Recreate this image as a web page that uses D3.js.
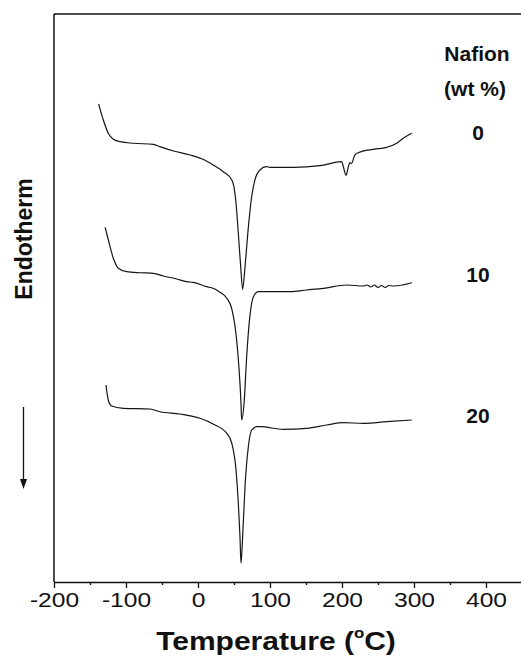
<!DOCTYPE html>
<html>
<head>
<meta charset="utf-8">
<script src="https://cdn.jsdelivr.net/npm/d3@7"></script>
<style>
  html, body { margin: 0; padding: 0; background: #fff; }
  svg { display: block; }
</style>
</head>
<body>
<svg id="chart" width="521" height="668"></svg>
<script>
// DSC traces, heat flow in arbitrary units (endotherm down), offset per composition
const trace0 = [
  [-138, 84.15], [-131.5, 81.34], [-124.6, 79.0], [-117.6, 77.94], [-108, 77.52],
  [-90, 77.24], [-62, 77.06], [-53, 76.64], [-34, 75.88], [-11, 75.18], [7, 74.42],
  [21, 73.42], [35, 72.24], [47, 70.77], [50, 69.54], [52.8, 66.67], [56, 61.39],
  [59.3, 55.51], [62, 51.53], [65.3, 55.51], [70, 62.55], [74.5, 67.83], [79, 70.77],
  [86, 72.54], [95, 73.12], [100, 73.01], [132, 73.01], [169, 73.29], [199.5, 74.0],
  [201.9, 73.1], [205.6, 71.6], [208.8, 73.1], [211, 73.82], [213, 73.68],
  [218, 75.18], [222.7, 75.58], [243.5, 76.18], [262, 76.53], [276, 77.24],
  [285, 78.12], [296.8, 79.0]
];
const trace10 = [
  [-129, 62.45], [-124.5, 60.21], [-117.6, 56.99], [-110.6, 55.23], [-99, 54.63],
  [-80.6, 54.45], [-62, 54.35], [-48, 53.87], [-29.6, 53.35], [-15.7, 52.87],
  [-6.5, 52.76], [12, 51.99], [21, 51.71], [30, 51.06], [40, 49.95], [47, 48.06],
  [53.7, 42.61], [57.4, 36.74], [59.7, 31.51], [60.6, 28.52], [64, 31.51],
  [67.6, 39.67], [72, 46.71], [77, 50.23], [84, 51.11], [100, 51.11], [128, 51.11],
  [151, 51.41], [174, 51.71], [206.5, 52.29], [229.6, 52.11], [235, 52.29],
  [240, 51.94], [245, 52.29], [250, 51.85], [255, 52.2], [260, 51.85], [265, 52.2],
  [271, 52.11], [294.4, 52.59], [297, 52.69]
];
const trace20 = [
  [-127.8, 34.68], [-124.6, 32.04], [-120, 30.99], [-103.7, 30.58], [-66.7, 30.46],
  [-52.8, 29.98], [-25, 29.58], [2.8, 28.82], [21, 27.82], [40, 26.18], [46.8, 24.47],
  [52.8, 19.72], [56, 13.91], [58.3, 7.98], [59.7, 3.35], [62, 7.98], [65.3, 16.78],
  [69.9, 23.82], [74.6, 26.76], [81.5, 27.34], [86, 27.34], [118.5, 26.88],
  [151, 27.06], [178.7, 27.64], [201.8, 28.05], [229.6, 27.94], [262, 28.22],
  [296.8, 28.52]
];
const traces = [trace0, trace10, trace20];
const nafionLabels = ["0", "10", "20"];
const labelLevels = [79.0, 54.0, 29.3];   // where each composition label sits
const majorTicks = [-200, -100, 0, 100, 200, 300, 400];
const minorTicks = [-150, -50, 50, 150, 250, 350, 450];

const svg = d3.select("#chart");
const x = d3.scaleLinear().domain([-200, 450]).range([54, 522]);
const y = d3.scaleLinear().domain([0, 100]).range([582, 14]);

const sans = "'Liberation Sans', Arial, Helvetica, sans-serif";

// frame: left and top edges
svg.append("line").attr("x1", 54).attr("x2", 54).attr("y1", y(100)).attr("y2", y(0))
  .attr("stroke", "#111").attr("stroke-width", 1.5);
svg.append("line").attr("x1", 54).attr("x2", 522).attr("y1", y(100)).attr("y2", y(100))
  .attr("stroke", "#111").attr("stroke-width", 1.5);

// bottom axis, major ticks with labels (plain hyphen for negatives)
const gx = svg.append("g").attr("transform", `translate(0,${y(0)})`)
  .call(d3.axisBottom(x).tickValues(majorTicks).tickSize(6).tickSizeOuter(0)
        .tickFormat(d => String(d)));
gx.select(".domain").attr("stroke", "#111").attr("stroke-width", 1.5);
gx.selectAll(".tick line").attr("stroke", "#111").attr("stroke-width", 1.3);
gx.selectAll(".tick text")
  .attr("y", 25).attr("dy", 0)
  .attr("font-family", sans).attr("font-size", 20.5).attr("fill", "#111")
  .attr("transform", "scale(1.2,1)");

// minor ticks
const gm = svg.append("g").attr("transform", `translate(0,${y(0)})`)
  .call(d3.axisBottom(x).tickValues(minorTicks).tickSize(3).tickFormat(""));
gm.select(".domain").remove();
gm.selectAll(".tick line").attr("stroke", "#111").attr("stroke-width", 1.3);

// traces
const line = d3.line().x(d => x(d[0])).y(d => y(d[1])).curve(d3.curveMonotoneX);
svg.append("g").selectAll("path").data(traces).join("path")
  .attr("d", line).attr("fill", "none").attr("stroke", "#151515")
  .attr("stroke-width", 1.2).attr("stroke-linejoin", "round");

// composition labels
svg.append("text").attr("x", 477).attr("y", 61).attr("text-anchor", "middle")
  .attr("font-family", sans).attr("font-weight", "bold").attr("font-size", 21)
  .attr("fill", "#111").text("Nafion");
svg.append("text").attr("x", 475).attr("y", 96).attr("text-anchor", "middle")
  .attr("font-family", sans).attr("font-weight", "bold").attr("font-size", 21)
  .attr("fill", "#111").text("(wt %)");
svg.append("g").selectAll("text").data(nafionLabels).join("text")
  .attr("x", 478).attr("y", (d, i) => y(labelLevels[i]) + 7)
  .attr("text-anchor", "middle")
  .attr("font-family", sans).attr("font-weight", "bold").attr("font-size", 21)
  .attr("fill", "#111").text(d => d);

// x axis title
const xt = svg.append("text").attr("text-anchor", "middle")
  .attr("transform", "translate(276,650) scale(1.2,1)")
  .attr("font-family", sans).attr("font-weight", "bold").attr("font-size", 25)
  .attr("fill", "#111");
xt.append("tspan").text("Temperature (");
xt.append("tspan").attr("font-size", 14).attr("dy", -12).text("o");
xt.append("tspan").attr("dy", 12).text("C)");

// y axis title and endotherm arrow
svg.append("text").attr("transform", "translate(32,239) rotate(-90)")
  .attr("text-anchor", "middle")
  .attr("font-family", sans).attr("font-weight", "bold").attr("font-size", 23)
  .attr("fill", "#111").text("Endotherm");
svg.append("line").attr("x1", 23.5).attr("x2", 23.5).attr("y1", 407).attr("y2", 480)
  .attr("stroke", "#111").attr("stroke-width", 1.3);
svg.append("path").attr("d", "M20,479 L27,479 L23.5,489 Z").attr("fill", "#111");
</script>
</body>
</html>
